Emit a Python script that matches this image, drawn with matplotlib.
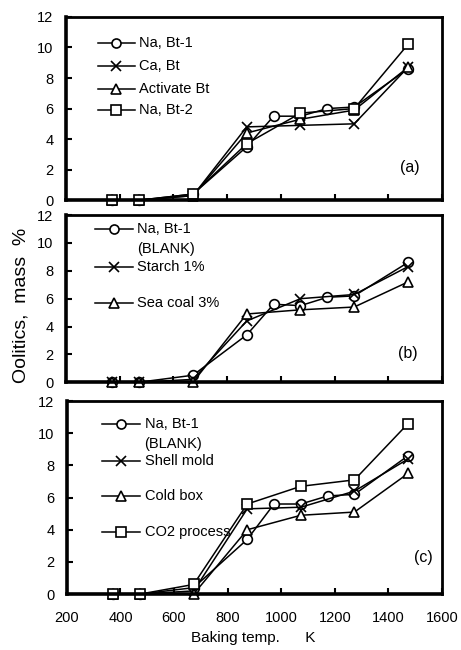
import matplotlib
matplotlib.use("Agg")
import matplotlib.pyplot as plt

plt.rcParams['font.family'] = ['Liberation Sans', 'DejaVu Sans']

# baking temperatures (K)
temps = [373, 473, 673, 873, 973, 1073, 1173, 1273, 1473]
temps_short = [373, 473, 673, 873, 1073, 1273, 1473]

# (a) binder type
a_na_bt1 = [0, 0, 0.4, 3.5, 5.5, 5.5, 6.0, 6.1, 8.6]
a_ca_bt = [0, 0, 0.3, 4.8, 4.9, 5.0, 8.7]
a_act_bt = [0, 0, 0.3, 4.4, 5.3, 5.9, 8.7]
a_na_bt2 = [0, 0, 0.4, 3.7, 5.7, 6.0, 10.2]

# (b) additives
b_blank = [0, 0, 0.5, 3.4, 5.6, 5.5, 6.1, 6.2, 8.6]
b_starch = [0, 0, 0.2, 4.4, 6.0, 6.3, 8.3]
b_seacoal = [0, 0, 0.0, 4.9, 5.2, 5.4, 7.2]

# (c) molding process
c_blank = [0, 0, 0.4, 3.4, 5.6, 5.6, 6.1, 6.2, 8.6]
c_shell = [0, 0, 0.2, 5.3, 5.4, 6.4, 8.4]
c_coldbox = [0, 0, 0.0, 4.0, 4.9, 5.1, 7.5]
c_co2 = [0, 0, 0.6, 5.6, 6.7, 7.1, 10.6]

STY = dict(color='black', lw=1.1, mfc='white', mec='black', mew=1.2, clip_on=False)
MK = {'o': 7, 'x': 7.5, '^': 7, 's': 7}


def series(ax, x, y, m):
    ax.plot(x, y, marker=m, ms=MK[m], **STY)


def key(ax, x0, x1, y, m, label, blank=False):
    # hand drawn legend entry, axes fraction coords
    ax.plot([x0, x1], [y, y], transform=ax.transAxes, color='black', lw=1.1)
    ax.plot([(x0 + x1) / 2], [y], transform=ax.transAxes, marker=m, ms=MK[m] - 0.5,
            mfc='white', mec='black', mew=1.2, color='black')
    ax.text(x1 + 0.012, y, label, transform=ax.transAxes, va='center', ha='left', fontsize=10.5)
    if blank:
        ax.annotate('(BLANK)', xy=(x1 + 0.012, y), xycoords='axes fraction',
                    xytext=(0, -14.5), textcoords='offset points', va='center', ha='left',
                    fontsize=10.5)


fig = plt.figure(figsize=(4.61, 6.5), dpi=100)
ax_a = fig.add_axes([0.143, 0.692, 0.816, 0.282])
ax_b = fig.add_axes([0.143, 0.412, 0.816, 0.257])
ax_c = fig.add_axes([0.145, 0.086, 0.814, 0.297])

for ax in (ax_a, ax_b, ax_c):
    ax.set_xlim(200, 1600)
    ax.set_ylim(0, 12)
    ax.set_xticks(range(200, 1601, 200))
    ax.set_yticks(range(0, 13, 2))
    ax.tick_params(direction='in', length=4, width=1.5, labelsize=10.5)
    ax.tick_params(axis='y', pad=9)
    ax.tick_params(axis='x', pad=12)
    for s in ax.spines.values():
        s.set_linewidth(2.0)
    ax.spines['left'].set_linewidth(2.6)
    ax.spines['bottom'].set_linewidth(2.6)

ax_a.tick_params(labelbottom=False)
ax_b.tick_params(labelbottom=False)

# (a)
series(ax_a, temps, a_na_bt1, 'o')
series(ax_a, temps_short, a_ca_bt, 'x')
series(ax_a, temps_short, a_act_bt, '^')
series(ax_a, temps_short, a_na_bt2, 's')
key(ax_a, 0.085, 0.183, 0.858, 'o', 'Na, Bt-1')
key(ax_a, 0.085, 0.183, 0.733, 'x', 'Ca, Bt')
key(ax_a, 0.085, 0.183, 0.608, '^', 'Activate Bt')
key(ax_a, 0.085, 0.183, 0.490, 's', 'Na, Bt-2')
ax_a.text(0.915, 0.18, '(a)', transform=ax_a.transAxes, ha='center', va='center', fontsize=11.5)

# (b)
series(ax_b, temps, b_blank, 'o')
series(ax_b, temps_short, b_starch, 'x')
series(ax_b, temps_short, b_seacoal, '^')
key(ax_b, 0.077, 0.178, 0.917, 'o', 'Na, Bt-1', blank=True)
key(ax_b, 0.077, 0.178, 0.690, 'x', 'Starch 1%')
key(ax_b, 0.077, 0.178, 0.475, '^', 'Sea coal 3%')
ax_b.text(0.91, 0.17, '(b)', transform=ax_b.transAxes, ha='center', va='center', fontsize=11.5)

# (c)
series(ax_c, temps, c_blank, 'o')
series(ax_c, temps_short, c_shell, 'x')
series(ax_c, temps_short, c_coldbox, '^')
series(ax_c, temps_short, c_co2, 's')
key(ax_c, 0.093, 0.195, 0.883, 'o', 'Na, Bt-1', blank=True)
key(ax_c, 0.093, 0.195, 0.690, 'x', 'Shell mold')
key(ax_c, 0.093, 0.195, 0.508, '^', 'Cold box')
key(ax_c, 0.093, 0.195, 0.320, 's', 'CO2 process')
ax_c.text(0.95, 0.19, '(c)', transform=ax_c.transAxes, ha='center', va='center', fontsize=11.5)

fig.text(0.045, 0.53, 'Oolitics,  mass  %', rotation=90, ha='center', va='center', fontsize=14)
fig.text(0.55, 0.018, 'Baking temp.      K', ha='center', va='center', fontsize=11)

fig.savefig('out.png', dpi=100)
